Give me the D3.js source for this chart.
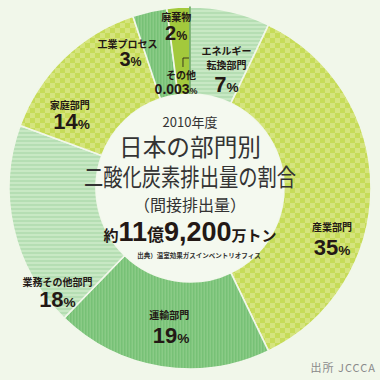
<!DOCTYPE html>
<html><head><meta charset="utf-8">
<script src="https://cdn.jsdelivr.net/npm/d3@7"></script>
<style>
html,body{margin:0;padding:0;background:#f1f7ea;}
svg{display:block;}
</style></head>
<body>
<script>
// ---- data ----
const categories = ["エネルギー転換部門","産業部門","運輸部門","業務その他部門","家庭部門","工業プロセス","廃棄物","その他"];
const labelLines = [["エネルギー","転換部門"],["産業部門"],["運輸部門"],["業務その他部門"],["家庭部門"],["工業プロセス"],["廃棄物"],["その他"]];
const values = [7, 35, 19, 18, 14, 3, 2, 0.003];
const valueLabels = ["7","35","19","18","14","3","2","0.003"];
const titleYear = "2010年度";
const titleLines = ["日本の部門別","二酸化炭素排出量の割合"];
const subtitle = "（間接排出量）";
const totalParts = [["約","s"],["11","b"],["億","m"],["9,200","b"],["万トン","s"]];
const sourceNote = "出典）温室効果ガスインベントリオフィス";
const credit = "出所 JCCCA";

// ---- layout / style ----
const W = 380, H = 380, cx = 190, cy = 188, R = 181, r0 = 94;
const fills = ["hstripe","checker","vstripe","hstripe","checker","vstripe","solid","dark"];
// percentage-label anchor offsets relative to each arc's mid-radius centroid
const nudges = [[6,38],[5,67],[3,20],[1,88],[-23,39],[-29,12],[-5,-11],[-14,43]];
// [gap from pct baseline to last name line, name dx, pct font size, name line height]
const labelFmt = [[23,0,22,14],[24,0,22,14],[24,-2,22,14],[21,0,22,14],[20,-2,22,14],[18,-3,20,14],[19,0,20,14],[15,5,14,14]];

const svg = d3.select("body").append("svg").attr("width",W).attr("height",H);
svg.append("rect").attr("width",W).attr("height",H).attr("fill","#f1f7ea");
const defs = svg.append("defs");

function pat(id, w, h, bg, draw){
  const p = defs.append("pattern").attr("id",id).attr("patternUnits","userSpaceOnUse").attr("width",w).attr("height",h);
  p.append("rect").attr("width",w).attr("height",h).attr("fill",bg);
  draw(p);
}
pat("checker",10,10,"#d5e47e",p=>{
  p.append("rect").attr("x",0).attr("y",0).attr("width",5).attr("height",5).attr("fill","#c6dc58");
  p.append("rect").attr("x",5).attr("y",5).attr("width",5).attr("height",5).attr("fill","#c6dc58");
});
pat("hstripe",4,4,"#c8e8c4",p=>{
  p.append("rect").attr("x",0).attr("y",0).attr("width",4).attr("height",2).attr("fill","#b5deb3");
});
pat("vstripe",3,3,"#8acb86",p=>{
  p.append("rect").attr("x",0).attr("y",0).attr("width",1.5).attr("height",3).attr("fill","#77c176");
});
const fillOf = k => k==="solid" ? "#a3c93c" : k==="dark" ? "#3f8f3a" : `url(#${k})`;

const g = svg.append("g").attr("transform",`translate(${cx},${cy})`);
const pie = d3.pie().sort(null).value(d=>d).startAngle(0).endAngle(2*Math.PI);
const arcs = pie(values);
const arc = d3.arc().innerRadius(r0).outerRadius(R);

g.selectAll("path.slice").data(arcs).join("path")
  .attr("class","slice")
  .attr("d",arc)
  .attr("fill",(d,i)=>fillOf(fills[i]))
  .attr("stroke",(d,i)=> i===7 ? "#3f8f3a" : "#f1f7ea")
  .attr("stroke-width",(d,i)=> i===7 ? 1.2 : 1.6);

// inner disc
g.append("circle").attr("r",r0).attr("fill","#f4f9ef");

// ---- labels ----
const labArc = d3.arc().innerRadius(137).outerRadius(137);
const jp = "'Noto Sans CJK JP','Noto Sans',sans-serif";
const num = "'Liberation Sans',Arial,sans-serif";

function pctLabel(x, y, txt, size){
  const t = svg.append("text").attr("x",x).attr("y",y).attr("text-anchor","middle")
    .attr("font-family",num).attr("font-weight","bold").attr("fill","#231815");
  t.append("tspan").attr("font-size",size).text(txt);
  t.append("tspan").attr("font-size",size*0.62).text("%");
}
function nameLabel(x, y, lines, size, lh){
  lines.forEach((ln,j)=>{
    svg.append("text").attr("x",x).attr("y",y + j*lh).attr("text-anchor","middle")
      .attr("font-family",jp).attr("font-weight","bold").attr("font-size",size)
      .attr("fill","#231815").text(ln);
  });
}

arcs.forEach((a,i)=>{
  const [x0,y0] = labArc.centroid(a);
  const x = cx + x0 + nudges[i][0], y = cy + y0 + nudges[i][1];
  const [gap, ndx, ps, lh] = labelFmt[i];
  const n = labelLines[i].length;
  nameLabel(x + ndx, y - gap - (n-1)*lh, labelLines[i], 10, lh);
  pctLabel(x, y, valueLabels[i], ps);
});

// leader bracket for the tiny "その他" slice
(function(){
  const a7 = arcs[7];
  const lx = cx + 120*Math.sin(a7.startAngle);
  const ly = cy - 120*Math.cos(a7.startAngle);
  svg.append("path")
    .attr("d",`M${lx-7},${ly-1} V${ly-10} H${lx-1}`)
    .attr("fill","none").attr("stroke","#231815").attr("stroke-width",0.8);
})();

// ---- center text ----
const ct = (y, size, txt, opts={}) => {
  const t = svg.append("text").attr("x",cx).attr("y",y).attr("text-anchor","middle")
    .attr("font-family",jp).attr("font-size",size).attr("fill","#333").text(txt);
  if(opts.len){ t.attr("textLength",opts.len).attr("lengthAdjust","spacingAndGlyphs"); }
  if(opts.w) t.attr("font-weight",opts.w);
  return t;
};
ct(127, 13, titleYear);
ct(156, 24, titleLines[0], {len:142});
ct(186, 24, titleLines[1], {len:212});
ct(211, 16, subtitle, {len:112});

const tot = svg.append("text").attr("x",cx).attr("y",241).attr("text-anchor","middle").attr("fill","#231815").attr("font-weight","bold");
totalParts.forEach(([s,k])=>{
  const sp = tot.append("tspan").text(s);
  if(k==="b") sp.attr("font-family",num).attr("font-size",27);
  else if(k==="m") sp.attr("font-family",jp).attr("font-size",17);
  else sp.attr("font-family",jp).attr("font-size",15);
});

svg.append("text").attr("x",cx+9).attr("y",258).attr("text-anchor","middle")
  .attr("font-family",jp).attr("font-weight","bold").attr("font-size",6.5).attr("fill","#333").text(sourceNote);

svg.append("text").attr("x",376).attr("y",372).attr("text-anchor","end")
  .attr("font-family",jp).attr("font-size",11).attr("letter-spacing",1).attr("fill","#8a8a8a").text(credit);
</script>
</body></html>
